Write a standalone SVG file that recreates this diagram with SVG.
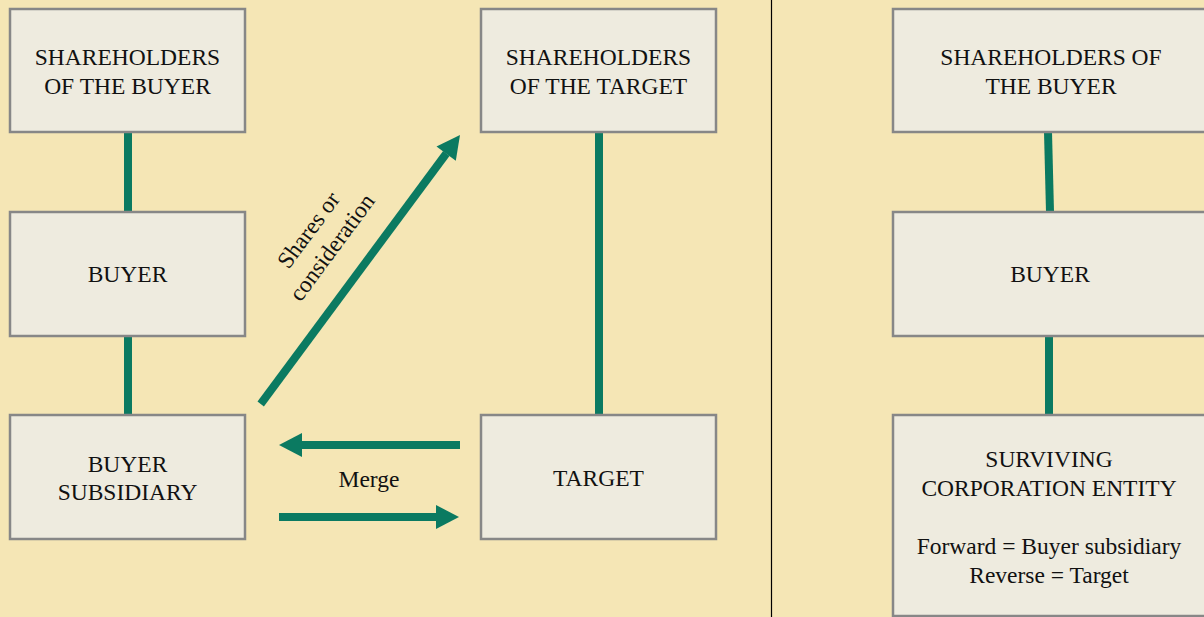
<svg xmlns="http://www.w3.org/2000/svg" width="1204" height="617" viewBox="0 0 1204 617">
<defs>
<style>
.box{fill:#EEEBDF;stroke:#878787;stroke-width:2.5}
.t{font-family:"Liberation Serif","Times New Roman",serif;font-size:23.5px;fill:#111;text-anchor:middle}
.c{stroke:#0B7A61;stroke-width:8;fill:none}
.h{fill:#0B7A61}
</style>
</defs>
<rect x="0" y="0" width="1204" height="617" fill="#F5E6B5"/>
<line x1="771.5" y1="0" x2="771.5" y2="617" stroke="#000" stroke-width="1.2"/>
<g id="connectors">
<line class="c" x1="128" y1="132" x2="128" y2="212"/>
<line class="c" x1="128" y1="336" x2="128" y2="415"/>
<line class="c" x1="599" y1="132" x2="599" y2="415"/>
<line class="c" x1="1048" y1="132" x2="1050" y2="212"/>
<line class="c" x1="1049" y1="336" x2="1049" y2="415"/>
<line class="c" x1="260.7" y1="404" x2="446.3" y2="153.5"/>
<polygon class="h" points="460,135 436.5,146.4 455.8,160.7"/>
<line class="c" x1="460" y1="445" x2="301" y2="445"/>
<polygon class="h" points="279,445 302,433 302,457"/>
<line class="c" x1="279" y1="517" x2="437" y2="517"/>
<polygon class="h" points="459,517 436,505 436,529"/>
<text class="t" x="369" y="487">Merge</text>
<g transform="translate(320,238.5) rotate(-53.5)">
<text class="t" x="0" y="-6.5">Shares or</text>
<text class="t" x="0" y="22.5">consideration</text>
</g>
</g>
<g id="sh-buyer">
<rect class="box" x="10" y="9" width="235" height="123"/>
<text class="t" x="127.5" y="65">SHAREHOLDERS</text>
<text class="t" x="127.5" y="94">OF THE BUYER</text>
</g>
<g id="buyer">
<rect class="box" x="10" y="212" width="235" height="124"/>
<text class="t" x="127.5" y="282">BUYER</text>
</g>
<g id="buyer-sub">
<rect class="box" x="10" y="415" width="235" height="124"/>
<text class="t" x="127.5" y="472">BUYER</text>
<text class="t" x="127.5" y="500">SUBSIDIARY</text>
</g>
<g id="sh-target">
<rect class="box" x="481" y="9" width="235" height="123"/>
<text class="t" x="598.5" y="65">SHAREHOLDERS</text>
<text class="t" x="598.5" y="94">OF THE TARGET</text>
</g>
<g id="target">
<rect class="box" x="481" y="415" width="235" height="124"/>
<text class="t" x="598.5" y="486">TARGET</text>
</g>
<g id="r-sh-buyer">
<rect class="box" x="893" y="9" width="320" height="123"/>
<text class="t" x="1051" y="65">SHAREHOLDERS OF</text>
<text class="t" x="1051" y="94">THE BUYER</text>
</g>
<g id="r-buyer">
<rect class="box" x="893" y="212" width="320" height="124"/>
<text class="t" x="1050" y="282">BUYER</text>
</g>
<g id="surviving">
<rect class="box" x="893" y="415" width="320" height="201"/>
<text class="t" x="1049" y="467">SURVIVING</text>
<text class="t" x="1049" y="496">CORPORATION ENTITY</text>
<text class="t" x="1049" y="554">Forward = Buyer subsidiary</text>
<text class="t" x="1049" y="583">Reverse = Target</text>
</g>
</svg>
